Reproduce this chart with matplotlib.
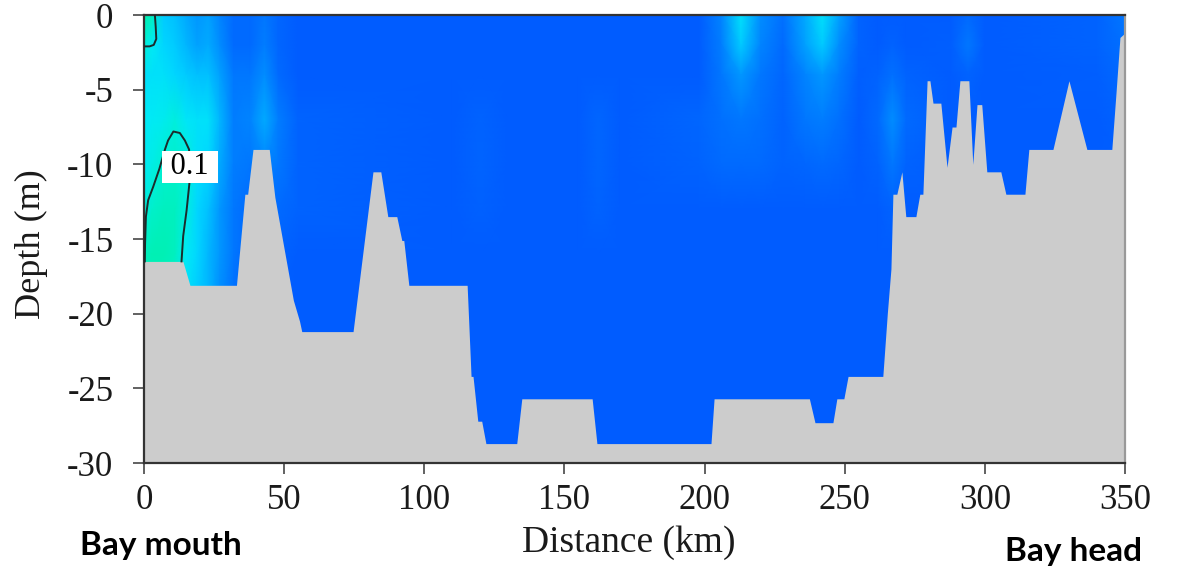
import numpy as np
import matplotlib.pyplot as plt
from matplotlib.colors import LinearSegmentedColormap

plt.rcParams['font.family'] = ['Liberation Serif', 'DejaVu Serif']
plt.rcParams['axes.unicode_minus'] = False

# Grid of the coloured field (distance along the bay, depth)
dist_cols = [0, 3, 7, 11, 15, 19, 23, 27, 32, 38, 43, 48, 55,
             110, 120, 130, 155, 162, 170,
             198, 206, 213, 220, 228, 236, 242, 248, 255, 262, 267, 272, 288, 294, 300, 340, 350]
depth_rows = [0, -2, -4, -7, -10, -13, -16, -19, -30]

field_0 = [.12, .11, .075, .07, .06, .05, .055, .04, .02, .02, .03, .015, 0,
           0, 0, 0, 0, 0, 0,
           0, .04, .085, .045, .025, .06, .085, .055, .01, 0, 0, 0, 0, .02, 0, .01, .03]
field_2 = [.10, .09, .08, .075, .065, .055, .06, .045, .02, .02, .035, .015, 0,
           0, 0, 0, 0, 0, 0,
           0, .035, .075, .04, .02, .055, .075, .045, .01, 0, .01, 0, .005, .03, 0, .01, .025]
field_4 = [.085, .085, .085, .08, .075, .07, .07, .055, .03, .03, .045, .02, 0,
           0, 0, 0, 0, 0, 0,
           0, .03, .05, .03, .015, .04, .05, .035, .005, .01, .025, .01, 0, .01, 0, .005, .02]
field_7 = [.09, .09, .092, .097, .088, .085, .085, .065, .035, .04, .06, .035, .01,
           0, .01, 0, 0, .015, 0,
           .015, .025, .03, .025, .01, .03, .035, .025, 0, .02, .045, .02, 0, 0, 0, 0, .01]
field_10 = [.09, .095, .102, .105, .1, .085, .08, .06, .035, .03, .04, .03, .01,
            0, .012, 0, 0, .015, 0,
            .01, .02, .02, .02, .01, .015, .02, .015, 0, .01, .03, .01, 0, 0, 0, 0, 0]
field_13 = [.097, .105, .11, .11, .097, .08, .07, .05, .03, .02, .02, .02, .01,
            0, .008, 0, 0, .01, 0,
            0, 0, 0, 0, 0, 0, 0, 0, 0, 0, .01, 0, 0, 0, 0, 0, 0]
field_16 = [.11, .115, .115, .11, .09, .08, .065, .05, .03, .01, .01, .01, 0,
            0, 0, 0, 0, 0, 0,
            0, 0, 0, 0, 0, 0, 0, 0, 0, 0, 0, 0, 0, 0, 0, 0, 0]
field_19 = [.11, .11, .11, .1, .085, .075, .065, .045, .025, .01, .01, .005, 0,
            0, 0, 0, 0, 0, 0,
            0, 0, 0, 0, 0, 0, 0, 0, 0, 0, 0, 0, 0, 0, 0, 0, 0]
field_30 = field_19

# Bottom profile
bottom_km = [0, 13.9, 16.4, 33, 36, 37, 38.9, 44.7, 46.7, 53.3, 55.5, 56.3, 74.6, 81.7, 84.5, 87, 90.2,
             92, 92.7, 94.5, 115.3, 116.7, 117.4, 119.1, 120.5, 122, 133, 134.8, 159.9, 161.6,
             202.3, 203.4, 237.4, 239.4, 245.8, 247.2, 249.7, 251.2, 263.6, 265.2,
             266.5, 267.2, 268.6, 270.4, 271.8, 275.4, 276.8, 277.9, 279.4, 280.4,
             281.5, 284.3, 286.5, 288.3, 289.7, 291.1, 294.3, 295.7, 297.2, 298.9,
             300.7, 305.7, 307.5, 314.3, 315.7, 324.3, 330, 336.4, 345.3, 346.8, 348.2, 350]
bottom_m = [-16.5, -16.5, -18.1, -18.1, -12, -12, -9, -9, -12.2, -19.1, -20.5, -21.2, -21.2, -10.5, -10.5,
            -13.5, -13.5, -15.1, -15.1, -18.1, -18.1, -24.2, -24.2, -27.2, -27.2, -28.7, -28.7, -25.7,
            -25.7, -28.7, -28.7, -25.7, -25.7, -27.3, -27.3, -25.7, -25.7, -24.2, -24.2, -20,
            -17, -12, -12, -10.5, -13.5, -13.5, -12, -12, -4.4, -4.4,
            -5.9, -5.9, -10.2, -7.5, -7.5, -4.4, -4.4, -10, -6, -6,
            -10.5, -10.5, -12, -12, -9, -9, -4.4, -9, -9, -5.2, -1.5, -1.2]

# 0.1 contour near the bay mouth
contour_top_km = [3.9, 4.2, 4.4, 3.5, 2.0, 0.3]
contour_top_m = [0, -0.8, -1.6, -2.0, -2.1, -2.1]
contour_km = [0.3, 0.4, 0.7, 1.5, 3.3, 5.5, 7.5, 8.6, 10.5, 12.8, 14.6, 16.1, 16.3, 16.2, 15.2, 14.0, 13.4]
contour_m = [-16.5, -15.3, -13.5, -12.4, -11.5, -10.3, -9.0, -8.4, -7.8, -7.9, -8.4, -9.0, -10.2,
             -11.3, -13.1, -14.8, -16.5]
label_km, label_m = 16.4, -10.15

field = np.array([field_0, field_2, field_4, field_7, field_10, field_13, field_16, field_19, field_30])

cmap = LinearSegmentedColormap.from_list('bay', [
    (0.0, '#005cff'), (0.02 / 0.13, '#006aff'), (0.04 / 0.13, '#0084ff'),
    (0.06 / 0.13, '#00aaff'), (0.08 / 0.13, '#00d6ff'), (0.09 / 0.13, '#00eaf6'),
    (0.10 / 0.13, '#00f0d6'), (0.115 / 0.13, '#00f0b4'), (1.0, '#00eea0')])

fig = plt.figure(figsize=(11.78, 5.67), dpi=100)
ax = fig.add_axes([0.1222, 0.1834, 0.8328, 0.7901])

X, Y = np.meshgrid(dist_cols, depth_rows)
ax.pcolormesh(X, Y, field, cmap=cmap, vmin=0, vmax=0.13, shading='gouraud', zorder=1)
ax.fill_between(bottom_km, bottom_m, -30, color='#cccccc', linewidth=0, zorder=2)

ax.plot(contour_top_km, contour_top_m, color='#1c2b2b', lw=1.4, zorder=3)
ax.plot(contour_km, contour_m, color='#1c2b2b', lw=1.4, zorder=3)
ax.text(label_km, label_m, ' 0.1 ', fontsize=22, ha='center', va='center', zorder=4,
        bbox=dict(boxstyle='square,pad=0.05', fc='white', ec='none'))

ax.set_xlim(0, 350)
ax.set_ylim(-30, 0)
ax.set_xticks(np.arange(0, 351, 50))
ax.set_yticks(np.arange(-30, 1, 5))

for side in ['left', 'bottom', 'top']:
    ax.spines[side].set_color('#333333')
    ax.spines[side].set_linewidth(1.6)
ax.spines['right'].set_color('#999999')
ax.spines['right'].set_linewidth(1.6)

ax.tick_params(direction='out', length=8, width=1.3, color='#555555', labelsize=25, labelcolor='#1a1a1a')
ax.tick_params(axis='x', pad=7)
ax.tick_params(axis='y', pad=14)

fig.text(629 / 1178, 1 - 551.7 / 567, 'Distance (km)', fontsize=27, ha='center', va='baseline', color='#1a1a1a')
fig.text(31 / 1178, 1 - 244 / 567, 'Depth (m)', fontsize=26, rotation=90, ha='center', va='center',
         color='#1a1a1a')

fig.text(80 / 1178, 1 - 555 / 567, 'Bay mouth', fontsize=24, fontweight='bold',
         family=['Lato', 'DejaVu Sans'], ha='left', va='baseline')
fig.text(1005 / 1178, 1 - 560.5 / 567, 'Bay head', fontsize=24, fontweight='bold',
         family=['Lato', 'DejaVu Sans'], ha='left', va='baseline')

fig.savefig('out.png', dpi=100)
